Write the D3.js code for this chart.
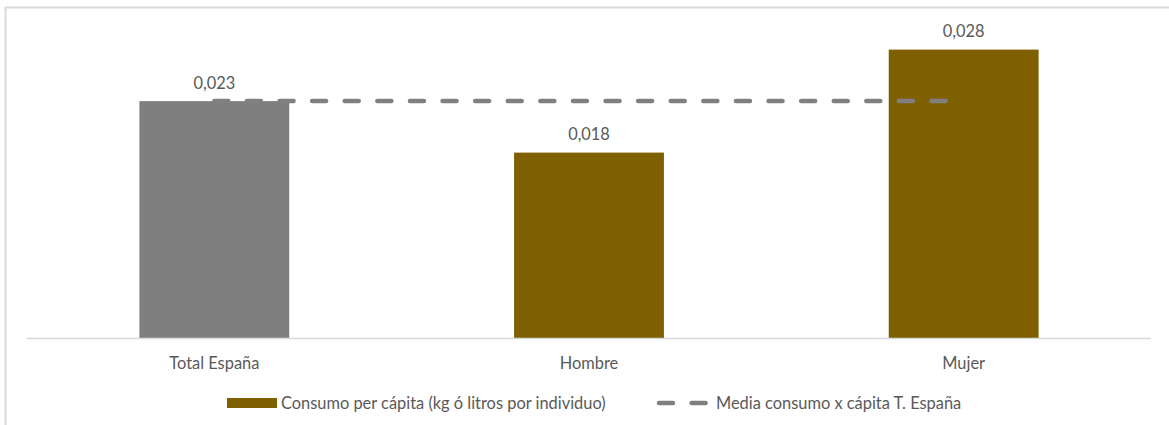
<!doctype HTML>
<html>
<head>
    <style>
        body { margin: 0; background: #fff; }
        text { font-family: Lato, "Open Sans", sans-serif; fill: #595959; }
    </style>
    <script src="https://d3js.org/d3.v7.min.js"></script>
</head>
<body>
<div id="chart"></div>
<script>

    // chart data
    var categories = ["Total España", "Hombre", "Mujer"];
    var consumo = [0.023, 0.018, 0.028];
    var media = [0.023, 0.023, 0.023];
    var legendLabels = ["Consumo per cápita (kg ó litros por individuo)", "Media consumo x cápita T. España"];

    var canvasWidth = 1169;
    var canvasHeight = 425;

    var svg = d3.select("#chart").append("svg")
        .attr("width", canvasWidth)
        .attr("height", canvasHeight);

    // outer frame (right / bottom edges fall outside the picture)
    svg.append("rect")
        .attr("x", 5.5)
        .attr("y", 7.5)
        .attr("width", 1300)
        .attr("height", 600)
        .attr("fill", "none")
        .attr("stroke", "#d9d9d9")
        .attr("stroke-width", 2);

    var x = d3.scaleBand()
        .domain(categories)
        .range([27, 1151])
        .paddingInner(0.6)
        .paddingOuter(0.3);

    var y = d3.scaleLinear()
        .domain([0, 0.03])
        .range([338, 29]);

    var fmt = d3.formatLocale({decimal: ",", thousands: ".", grouping: [3], currency: ["", "€"]}).format(".3f");

    var barColor = function(i) { return i === 0 ? "#7f7f7f" : "#7f6000"; };

    // bars
    svg.append("g")
        .selectAll("rect")
        .data(consumo)
        .join("rect")
        .attr("x", (d, i) => x(categories[i]))
        .attr("y", d => y(d))
        .attr("width", x.bandwidth())
        .attr("height", d => y(0) - y(d))
        .attr("fill", (d, i) => barColor(i));

    // category axis
    var xAxis = svg.append("g")
        .attr("transform", "translate(0," + y(0) + ")")
        .call(d3.axisBottom(x).tickSize(0).tickPadding(19));
    xAxis.select(".domain")
        .attr("d", "M27,0.5H1151")
        .attr("stroke", "#d9d9d9")
        .attr("stroke-width", 1.5);
    xAxis.selectAll("text")
        .attr("font-size", "16.4px")
        .attr("fill", "#595959")
        .style("font-family", "Lato, 'Open Sans', sans-serif");

    // mean line
    var line = d3.line()
        .x((d, i) => x(categories[i]) + x.bandwidth() / 2)
        .y(d => y(d));

    svg.append("path")
        .datum(media)
        .attr("d", line)
        .attr("fill", "none")
        .attr("stroke", "#808080")
        .attr("stroke-width", 4.5)
        .attr("stroke-linecap", "round")
        .attr("stroke-dasharray", "14,18.6");

    // value labels
    svg.append("g")
        .selectAll("text")
        .data(consumo)
        .join("text")
        .attr("x", (d, i) => x(categories[i]) + x.bandwidth() / 2)
        .attr("y", d => y(d) - 12.5)
        .attr("text-anchor", "middle")
        .attr("font-size", "16.4px")
        .text(d => fmt(d));

    // legend
    var legendY = 403;
    svg.append("rect")
        .attr("x", 227)
        .attr("y", legendY - 5)
        .attr("width", 50)
        .attr("height", 10)
        .attr("fill", "#7f6000");

    svg.append("text")
        .attr("x", 281)
        .attr("y", legendY + 6)
        .attr("font-size", "16.4px")
        .text(legendLabels[0]);

    svg.append("line")
        .attr("x1", 659)
        .attr("x2", 707)
        .attr("y1", legendY)
        .attr("y2", legendY)
        .attr("stroke", "#808080")
        .attr("stroke-width", 4.5)
        .attr("stroke-linecap", "round")
        .attr("stroke-dasharray", "14,18.6");

    svg.append("text")
        .attr("x", 716)
        .attr("y", legendY + 6)
        .attr("font-size", "16.4px")
        .text(legendLabels[1]);

</script>
</body>
</html>
